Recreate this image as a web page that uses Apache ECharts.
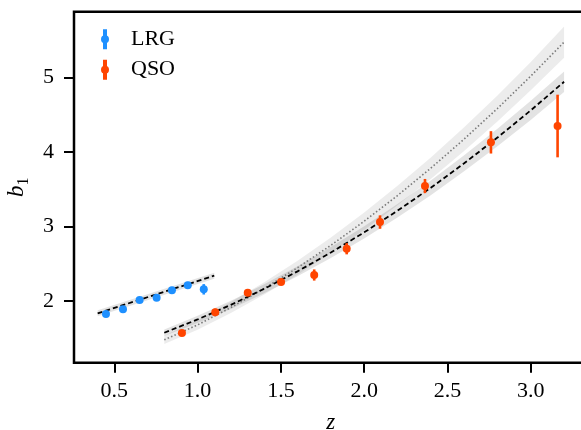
<!DOCTYPE html>
<html><head><meta charset="utf-8">
<script src="https://cdn.jsdelivr.net/npm/echarts@6/dist/echarts.min.js"></script>
<style>html,body{margin:0;padding:0;background:#fff}#c{width:581px;height:430px}</style>
</head><body><div id="c"></div>
<script>
// ---- data ----
const lrgZ   = [0.450, 0.552, 0.652, 0.754, 0.846, 0.941, 1.037];
const lrgB   = [1.826, 1.889, 2.013, 2.044, 2.143, 2.211, 2.157];
const lrgErr = [0.02, 0.02, 0.02, 0.02, 0.02, 0.025, 0.07];

const qsoZ   = [0.906, 1.106, 1.301, 1.501, 1.700, 1.895, 2.095, 2.365, 2.761, 3.161];
const qsoB   = [1.571, 1.848, 2.111, 2.255, 2.349, 2.701, 3.059, 3.542, 4.128, 4.347];
const qsoErr = [0.03, 0.05, 0.04, 0.04, 0.075, 0.075, 0.09, 0.095, 0.15, 0.42];

// LRG fit line (dashed) and its band half-width
const lrgFitZ  = [0.40, 0.75, 1.10];
const lrgFitB  = [1.835, 2.088, 2.340];
const lrgFitHW = [0.04, 0.04, 0.04];

// QSO model curves
const modelZ    = [0.8, 1.0, 1.2, 1.4, 1.6, 1.8, 2.0, 2.2, 2.4, 2.6, 2.8, 3.0, 3.2];
const qsoFitB   = [1.575, 1.753, 1.949, 2.164, 2.398, 2.650, 2.921, 3.211, 3.519, 3.847, 4.192, 4.557, 4.940];
const qsoFitHW  = [0.044, 0.049, 0.055, 0.061, 0.067, 0.074, 0.082, 0.090, 0.099, 0.108, 0.117, 0.128, 0.138];
const refB      = [1.480, 1.680, 1.913, 2.169, 2.447, 2.747, 3.070, 3.415, 3.782, 4.171, 4.582, 5.016, 5.472];
const refHW     = [0.056, 0.064, 0.073, 0.082, 0.093, 0.104, 0.117, 0.130, 0.144, 0.158, 0.174, 0.191, 0.208];

const xTicks = [0.5, 1.0, 1.5, 2.0, 2.5, 3.0];
const yTicks = [2, 3, 4, 5];
// -------------------------------------

const BLUE = '#1e90ff', ORANGE = '#ff4500';
const FONT = "'Liberation Serif', 'DejaVu Serif', serif";

function band(zs, mid, hw, color) {
  return {
    type: 'custom', silent: true, z: 1,
    data: zs.map((z, i) => [z, mid[i]]),
    renderItem: function (params, api) {
      if (params.dataIndex !== 0) return;
      const pts = [];
      for (let i = 0; i < zs.length; i++) pts.push(api.coord([zs[i], mid[i] + hw[i]]));
      for (let i = zs.length - 1; i >= 0; i--) pts.push(api.coord([zs[i], mid[i] - hw[i]]));
      return { type: 'polygon', shape: { points: pts }, style: { fill: color } };
    }
  };
}
function errBars(zs, bs, es, color) {
  return {
    type: 'custom', silent: true, z: 4,
    data: zs.map((z, i) => [z, bs[i], es[i]]),
    renderItem: function (params, api) {
      const z = api.value(0), b = api.value(1), e = api.value(2);
      const p1 = api.coord([z, b - e]), p2 = api.coord([z, b + e]);
      return { type: 'line', shape: { x1: p1[0], y1: p1[1], x2: p2[0], y2: p2[1] },
               style: { stroke: color, lineWidth: 2.6 } };
    }
  };
}
function curve(zs, bs, style) {
  return { type: 'line', silent: true, z: 3, symbol: 'none', smooth: false,
           data: zs.map((z, i) => [z, bs[i]]), lineStyle: style };
}

const legendIcon = 'path://M2,0L6,0L6,20L2,20Z M8,10A4,4,0,1,1,0,10A4,4,0,1,1,8,10Z';

const chart = echarts.init(document.getElementById('c'), null, { renderer: 'canvas' });
chart.setOption({
  animation: false,
  backgroundColor: '#fff',
  grid: { left: 74, top: 11.7, right: -6.4, bottom: 67.3, show: true, containLabel: false,
          outerBoundsMode: 'none',
          borderColor: '#000', borderWidth: 2.5, backgroundColor: 'transparent' },
  legend: {
    orient: 'vertical', left: 96, top: 23.3, itemWidth: 8, itemHeight: 20, itemGap: 8.4,
    data: [{ name: 'LRG', icon: legendIcon, itemStyle: { color: BLUE, opacity: 1 } },
           { name: 'QSO', icon: legendIcon, itemStyle: { color: ORANGE, opacity: 1 } }],
    textStyle: { fontFamily: FONT, fontSize: 22, color: '#000', padding: [0, 0, 0, 17] }
  },
  xAxis: {
    type: 'value', min: 0.258, max: 3.34,
    name: 'z', nameLocation: 'middle', nameGap: 49,
    nameTextStyle: { fontFamily: FONT, fontSize: 23, fontStyle: 'italic', color: '#000' },
    axisLine: { show: false },
    splitLine: { show: false },
    axisTick: { show: true, length: 10, lineStyle: { color: '#000', width: 2 }, customValues: xTicks },
    axisLabel: { customValues: xTicks, margin: 18, fontFamily: FONT, fontSize: 22, color: '#000',
                 formatter: v => v.toFixed(1) }
  },
  yAxis: {
    type: 'value', min: 1.173, max: 5.88,
    name: '{b|b}{s|1}', nameLocation: 'middle', nameGap: 44,
    nameTextStyle: { color: '#000',
      rich: { b: { fontFamily: FONT, fontSize: 23, fontStyle: 'italic', color: '#000', lineHeight: 26, verticalAlign: 'bottom' },
              s: { fontFamily: FONT, fontSize: 16, color: '#000', lineHeight: 26, verticalAlign: 'bottom', padding: [0, 0, -4, 0] } } },
    axisLine: { show: false },
    splitLine: { show: false },
    axisTick: { show: true, length: 10, lineStyle: { color: '#000', width: 2 }, customValues: yTicks },
    axisLabel: { customValues: yTicks, margin: 20, fontFamily: FONT, fontSize: 22, color: '#000',
                 formatter: v => String(v) }
  },
  series: [
    band(modelZ, refB, refHW, 'rgba(0,0,0,0.075)'),
    band(modelZ, qsoFitB, qsoFitHW, 'rgba(0,0,0,0.11)'),
    band(lrgFitZ, lrgFitB, lrgFitHW, 'rgba(0,0,0,0.11)'),
    curve(modelZ, refB, { color: '#7a7a7a', width: 1.6, type: [1.5, 2.2] }),
    curve(modelZ, qsoFitB, { color: '#000', width: 1.8, type: [5, 3] }),
    curve(lrgFitZ, lrgFitB, { color: '#000', width: 1.8, type: [5, 3] }),
    errBars(lrgZ, lrgB, lrgErr, BLUE),
    errBars(qsoZ, qsoB, qsoErr, ORANGE),
    { name: 'LRG', type: 'scatter', z: 5, symbol: 'circle', symbolSize: 8,
      itemStyle: { color: BLUE, opacity: 1 }, data: lrgZ.map((z, i) => [z, lrgB[i]]) },
    { name: 'QSO', type: 'scatter', z: 5, symbol: 'circle', symbolSize: 8,
      itemStyle: { color: ORANGE, opacity: 1 }, data: qsoZ.map((z, i) => [z, qsoB[i]]) }
  ]
});
</script></body></html>
